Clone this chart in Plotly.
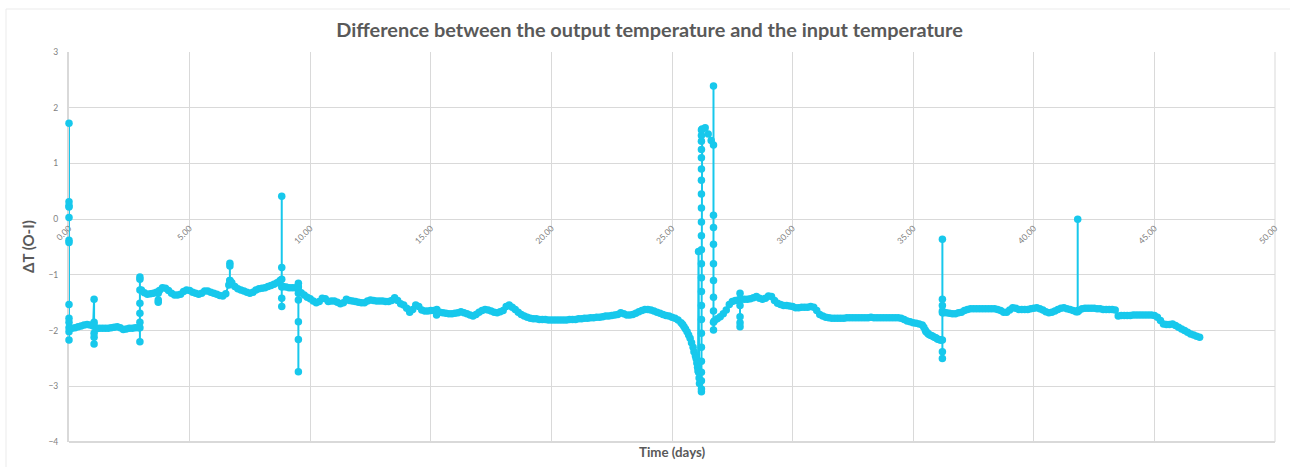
import numpy as np
import plotly.graph_objects as go

# Logging interval of the regular record, in days
SAMPLE_STEP = 0.125

# Regular record of ΔT = T_out - T_in, one row per day (8 readings per day)
delta_t_baseline = [
    -1.95, -1.96, -1.95, -1.93, -1.92, -1.90, -1.89, -1.90,   # day 0
    -1.92, -1.97, -1.96, -1.96, -1.96, -1.96, -1.95, -1.94,   # day 1
    -1.93, -1.95, -1.98, -1.97, -1.96, -1.96, -1.95, -1.95,   # day 2
    -1.27, -1.32, -1.35, -1.34, -1.33, -1.31, -1.28, -1.23,   # day 3
    -1.24, -1.28, -1.33, -1.36, -1.36, -1.35, -1.30, -1.27,   # day 4
    -1.28, -1.31, -1.33, -1.35, -1.33, -1.29, -1.29, -1.31,   # day 5
    -1.33, -1.35, -1.37, -1.38, -1.34, -1.18, -1.14, -1.21,   # day 6
    -1.25, -1.27, -1.29, -1.31, -1.33, -1.31, -1.27, -1.25,   # day 7
    -1.24, -1.23, -1.21, -1.19, -1.17, -1.14, -1.10, -1.21,   # day 8
    -1.22, -1.23, -1.23, -1.23, -1.22, -1.32, -1.36, -1.40,   # day 9
    -1.43, -1.47, -1.50, -1.48, -1.42, -1.43, -1.48, -1.47,   # day 10
    -1.47, -1.49, -1.52, -1.50, -1.44, -1.46, -1.47, -1.48,   # day 11
    -1.49, -1.50, -1.50, -1.47, -1.45, -1.46, -1.47, -1.47,   # day 12
    -1.47, -1.48, -1.48, -1.46, -1.41, -1.46, -1.52, -1.54,   # day 13
    -1.60, -1.67, -1.62, -1.54, -1.57, -1.63, -1.65, -1.65,   # day 14
    -1.64, -1.64, -1.62, -1.67, -1.68, -1.69, -1.70, -1.70,   # day 15
    -1.69, -1.68, -1.66, -1.68, -1.70, -1.72, -1.74, -1.71,   # day 16
    -1.67, -1.64, -1.62, -1.63, -1.65, -1.67, -1.68, -1.66,   # day 17
    -1.64, -1.57, -1.54, -1.58, -1.62, -1.67, -1.71, -1.74,   # day 18
    -1.76, -1.78, -1.79, -1.79, -1.80, -1.80, -1.80, -1.81,   # day 19
    -1.81, -1.81, -1.81, -1.81, -1.81, -1.81, -1.80, -1.80,   # day 20
    -1.80, -1.79, -1.79, -1.78, -1.78, -1.77, -1.77, -1.76,   # day 21
    -1.76, -1.75, -1.74, -1.74, -1.73, -1.72, -1.71, -1.68,   # day 22
    -1.70, -1.72, -1.72, -1.71, -1.69, -1.66, -1.64, -1.62,   # day 23
    -1.62, -1.63, -1.65, -1.67, -1.69, -1.71, -1.73, -1.74,   # day 24
    -1.76, -1.78, -1.81, -1.86, -1.93, -2.02, -2.14, -2.30,   # day 25
    -2.50, -2.85, 1.62, 1.64, 1.53, 1.41, -1.83, -1.79,       # day 26
    -1.75, -1.70, -1.63, -1.53, -1.48, -1.46, -1.45, -1.44,   # day 27
    -1.44, -1.44, -1.43, -1.41, -1.39, -1.42, -1.44, -1.42,   # day 28
    -1.38, -1.39, -1.46, -1.51, -1.53, -1.55, -1.55, -1.56,   # day 29
    -1.57, -1.59, -1.59, -1.58, -1.58, -1.58, -1.57, -1.58,   # day 30
    -1.64, -1.71, -1.74, -1.76, -1.77, -1.78, -1.78, -1.78,   # day 31
    -1.78, -1.78, -1.77, -1.77, -1.77, -1.77, -1.77, -1.77,   # day 32
    -1.77, -1.77, -1.76, -1.77, -1.77, -1.77, -1.77, -1.77,   # day 33
    -1.77, -1.77, -1.77, -1.77, -1.78, -1.80, -1.83, -1.84,   # day 34
    -1.86, -1.87, -1.88, -1.90, -1.99, -2.06, -2.09, -2.12,   # day 35
    -2.15, -2.17, -1.68, -1.68, -1.69, -1.70, -1.70, -1.68,   # day 36
    -1.67, -1.64, -1.62, -1.61, -1.61, -1.61, -1.61, -1.61,   # day 37
    -1.61, -1.61, -1.61, -1.61, -1.62, -1.64, -1.67, -1.67,   # day 38
    -1.63, -1.59, -1.60, -1.62, -1.62, -1.62, -1.62, -1.61,   # day 39
    -1.60, -1.59, -1.61, -1.63, -1.66, -1.68, -1.67, -1.65,   # day 40
    -1.62, -1.60, -1.59, -1.61, -1.62, -1.64, -1.66, -1.64,   # day 41
    -1.61, -1.60, -1.60, -1.60, -1.60, -1.61, -1.61, -1.62,   # day 42
    -1.62, -1.62, -1.62, -1.63, -1.74, -1.73, -1.73, -1.73,   # day 43
    -1.73, -1.72, -1.72, -1.72, -1.72, -1.72, -1.72, -1.72,   # day 44
    -1.73, -1.76, -1.82, -1.88, -1.89, -1.89, -1.88, -1.91,   # day 45
    -1.94, -1.97, -2.00, -2.03, -2.06, -2.08, -2.10, -2.12,   # day 46
]

# Extra readings logged while ΔT was changing fast (days, value)
fast_times = [25.44, 25.56, 25.69, 25.81, 25.91, 25.97, 26.03, 26.06, 26.08, 26.14,
              35.44, 35.53, 35.59, 35.69, 35.81, 35.94, 36.06, 36.16]
fast_values = [-1.89, -1.97, -2.08, -2.22, -2.38, -2.45, -2.58, -2.66, -2.72, -2.95,
               -1.94, -2.02, -2.04, -2.08, -2.10, -2.13, -2.16, -2.17]

# Fast transients logged within one time stamp (days) and their successive readings
burst_times = [0.00, 1.04, 2.94, 3.70, 6.67, 8.82, 9.51, 15.24,
               26.10, 26.22, 26.72, 27.82, 36.21, 41.82]
burst_values = [
    [0.03, 0.22, 0.24, 1.72, 0.31, -0.38, -0.42, -1.53, -1.78, -1.85, -2.17, -2.02],
    [-1.44, -1.85, -2.12, -2.24, -2.05, -1.90],
    [-1.95, -2.20, -1.85, -1.69, -1.51, -1.04, -1.08, -1.27],
    [-1.45, -1.49, -1.33],
    [-1.10, -0.79, -0.84, -1.10],
    [-1.08, 0.41, -0.87, -1.42, -1.57, -1.22],
    [-1.22, -1.15, -1.45, -1.84, -2.16, -2.74, -1.33],
    [-1.72],
    [-0.58, -2.75],
    [-3.10, -3.05, -2.90, -2.75, -2.55, -2.30, -2.05, -1.80, -1.55, -1.30,
     -1.05, -0.80, -0.55, -0.30, -0.05, 0.20, 0.45, 0.70, 0.90, 1.10,
     1.25, 1.40, 1.50, 1.60],
    [1.33, 2.39, 0.07, -0.15, -0.45, -0.80, -1.10, -1.40, -1.65, -1.85, -1.99],
    [-1.33, -1.55, -1.75, -1.86, -1.93, -1.44],
    [-2.17, -2.50, -2.38, -1.65, -1.44, -0.36, -1.55, -1.68],
    [-1.66, 0.00, -1.64],
]

# Merge the regular record, the extra readings and the transients into one time-ordered series
t_base = np.arange(len(delta_t_baseline)) * SAMPLE_STEP
t_burst = np.concatenate([[t] * len(v) for t, v in zip(burst_times, burst_values)])
v_burst = np.concatenate(burst_values)
t_all = np.concatenate([t_burst, np.array(fast_times), t_base])
v_all = np.concatenate([v_burst, np.array(fast_values), np.array(delta_t_baseline)])
order = np.argsort(t_all, kind="stable")
time_days = t_all[order]
delta_t = v_all[order]

LINE_COLOR = "#17C8EC"
GRID = "#D9D9D9"
TEXT = "#595959"
TICK = "#7F7F7F"
FONT = "Lato"

Y_MIN, Y_MAX = -4, 3

fig = go.Figure()
fig.add_trace(go.Scatter(
    x=time_days, y=delta_t,
    mode="lines+markers",
    line=dict(color=LINE_COLOR, width=2),
    marker=dict(color=LINE_COLOR, size=7.5, line=dict(width=0)),
    cliponaxis=False,
    showlegend=False,
    hoverinfo="x+y",
))

fig.update_layout(
    width=1290, height=467,
    margin=dict(l=69, r=15, t=52, b=25),
    paper_bgcolor="white", plot_bgcolor="white",
    font=dict(family=FONT, color=TEXT),
    title=dict(
        text="<b>Difference between the output temperature and the input temperature</b>",
        x=0.5035, xanchor="center", xref="container",
        y=1 - 30 / 467, yanchor="middle", yref="container",
        font=dict(family=FONT, size=19.9, color=TEXT),
    ),
    xaxis=dict(
        range=[0, 50], tick0=0, dtick=5, tickformat=".2f", tickangle=-45,
        anchor="free", position=(0 - Y_MIN) / (Y_MAX - Y_MIN),
        showline=True, linecolor=GRID, linewidth=1, layer="below traces",
        showgrid=True, gridcolor=GRID, gridwidth=1,
        zeroline=False, ticks="",
        tickfont=dict(family=FONT, size=8.5, color=TICK),
    ),
    yaxis=dict(
        range=[Y_MIN, Y_MAX], tick0=0, dtick=1,
        showline=True, linecolor=GRID, linewidth=2, layer="below traces",
        showgrid=True, gridcolor=GRID, gridwidth=1,
        zeroline=False, ticks="", ticklabelstandoff=7,
        tickfont=dict(family=FONT, size=8.5, color=TICK),
    ),
    annotations=[
        dict(text="<b>ΔT (O-I)</b>", xref="paper", yref="paper",
             x=(28 - 69) / 1206, y=(442 - 247) / 390, textangle=-90, showarrow=False,
             xanchor="center", yanchor="middle",
             font=dict(family=FONT, size=15, color=TEXT)),
        dict(text="<b>Time (days)</b>", xref="paper", yref="paper",
             x=(672 - 69) / 1206, y=(442 - 452) / 390, showarrow=False,
             xanchor="center", yanchor="middle",
             font=dict(family=FONT, size=13.3, color=TEXT)),
    ],
    shapes=[
        # chart area border
        dict(type="rect", xref="paper", yref="paper",
             x0=(6 - 69) / 1206, x1=(1300 - 69) / 1206,
             y0=(442 - 480) / 390, y1=(442 - 9) / 390,
             line=dict(color="#EBEBEB", width=1), fillcolor="rgba(0,0,0,0)",
             layer="below"),
        # plot area right and bottom edges
        dict(type="line", xref="paper", yref="paper", x0=1, x1=1, y0=0, y1=1,
             line=dict(color=GRID, width=1), layer="below"),
        dict(type="line", xref="paper", yref="paper", x0=0, x1=1, y0=0, y1=0,
             line=dict(color=GRID, width=2), layer="below"),
    ],
)

fig.write_html("out.html")
